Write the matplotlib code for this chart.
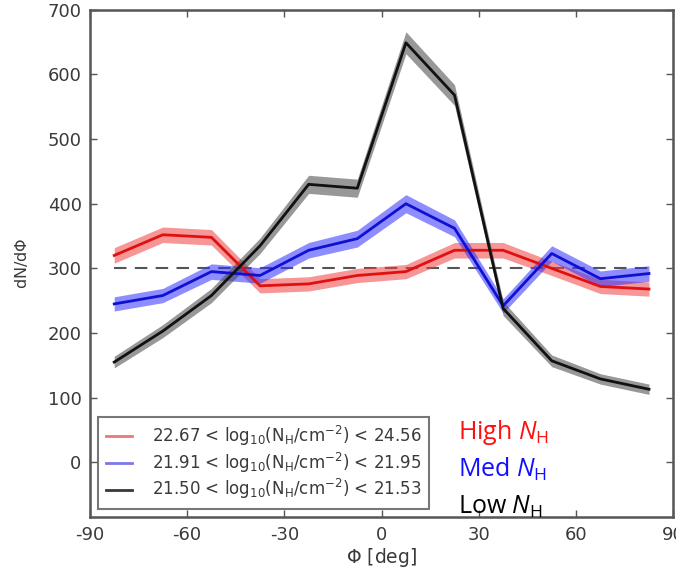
import matplotlib
matplotlib.use("Agg")
import matplotlib.pyplot as plt
from matplotlib.lines import Line2D
from matplotlib.font_manager import FontProperties

# Bin centres in azimuth Phi [deg]
phi = [-82.5, -67.5, -52.5, -37.5, -22.5, -7.5, 7.5, 22.5, 37.5, 52.5, 67.5, 82.5]

# dN/dPhi per column-density bin, with 1-sigma band half-widths
high_vals = [320, 352, 348, 273, 276, 289, 295, 328, 328, 300, 272, 268]
high_err = [12, 12, 12, 11, 11, 11, 11, 12, 12, 11, 11, 11]
med_vals = [245, 258, 295, 289, 328, 346, 400, 362, 242, 323, 284, 292]
med_err = [11, 11, 12, 12, 12, 13, 14, 13, 11, 12, 12, 12]
low_vals = [155, 203, 258, 335, 430, 424, 649, 568, 238, 157, 129, 113]
low_err = [9, 10, 11, 12, 14, 14, 17, 16, 11, 9, 8, 8]

uniform_level = 300

legend_labels = [
    r"22.67 < log$_{10}$(N$_{\rm H}$/cm$^{-2}$) < 24.56",
    r"21.91 < log$_{10}$(N$_{\rm H}$/cm$^{-2}$) < 21.95",
    r"21.50 < log$_{10}$(N$_{\rm H}$/cm$^{-2}$) < 21.53",
]
tag_labels = [r"High $N_{\mathrm{H}}$", r"Med $N_{\mathrm{H}}$", r"Low $N_{\mathrm{H}}$"]

xticks = [-90, -60, -30, 0, 30, 60, 90]
yticks = [0, 100, 200, 300, 400, 500, 600, 700]

plt.rcParams["axes.unicode_minus"] = False
plt.rcParams["mathtext.fontset"] = "custom"
plt.rcParams["mathtext.rm"] = "Open Sans"
plt.rcParams["mathtext.it"] = "Open Sans:italic"
plt.rcParams["mathtext.bf"] = "Open Sans:bold"

fig = plt.figure(figsize=(6.76, 5.76), dpi=100)
ax = fig.add_axes([0.133, 0.102, 0.863, 0.881])

series = [
    (high_vals, high_err, "#e01010", "#f04040"),
    (med_vals, med_err, "#1010d0", "#3030ff"),
    (low_vals, low_err, "#111111", "#444444"),
]

ax.plot([phi[0], phi[-1]], [uniform_level, uniform_level], color="#555555",
        lw=1.5, dashes=(6, 4), zorder=1)

for vals, err, lc, fc in series:
    lo = [v - e for v, e in zip(vals, err)]
    hi = [v + e for v, e in zip(vals, err)]
    ax.fill_between(phi, lo, hi, color=fc, alpha=0.55, lw=0, zorder=2)
    ax.plot(phi, vals, color=lc, lw=2, zorder=3)

ax.set_xlim(-90, 90)
ax.set_ylim(-85, 700)
ax.set_xticks(xticks)
ax.set_yticks(yticks)
ax.tick_params(direction="in", top=True, right=True, length=5, width=1,
               labelsize=13, labelcolor="#3a3a3a", color="#555555", pad=6)
for sp in ax.spines.values():
    sp.set_linewidth(1.8)
    sp.set_color("#555555")

ax.set_xlabel(r"$\Phi$ [deg]", fontsize=13.5, color="#3a3a3a", labelpad=2,
              math_fontfamily="dejavusans")
ax.set_ylabel(r"dN/d$\Phi$", fontsize=11.5, color="#3a3a3a", labelpad=13,
              math_fontfamily="dejavusans")

handles = [
    Line2D([], [], color="#e04040", lw=2, alpha=0.7),
    Line2D([], [], color="#4040e0", lw=2, alpha=0.7),
    Line2D([], [], color="#222222", lw=2, alpha=0.9),
]
leg_font = FontProperties(family="DejaVu Sans", size=12, math_fontfamily="dejavusans")
leg = ax.legend(handles, legend_labels, loc="lower left", prop=leg_font,
                fancybox=False, handlelength=1.6, borderpad=0.45,
                labelspacing=0.15, borderaxespad=0.5, handletextpad=1.2)
leg.get_frame().set_edgecolor("#555555")
leg.get_frame().set_linewidth(1.5)
for t in leg.get_texts():
    t.set_color("#3a3a3a")

tag_colors = ["#ff1010", "#1010ff", "#000000"]
tag_y = [439, 477, 514]
for lab, c, yp in zip(tag_labels, tag_colors, tag_y):
    fig.text(458 / 676, 1 - yp / 576, lab, color=c, fontsize=18,
             family="Open Sans", ha="left", va="baseline")

fig.savefig("out.png", dpi=100)
